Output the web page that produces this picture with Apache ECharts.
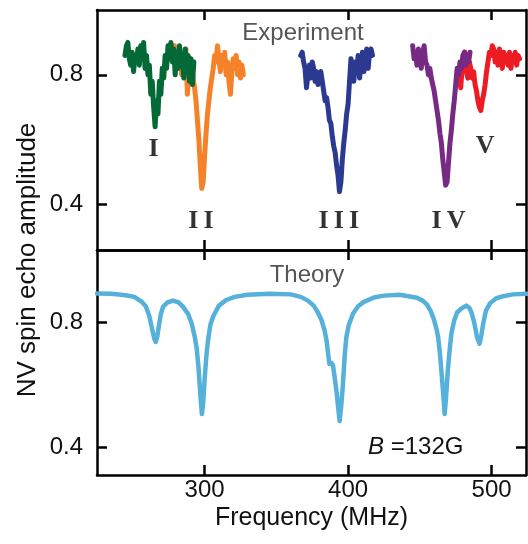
<!DOCTYPE html>
<html>
<head>
<meta charset="utf-8">
<script src="https://cdn.jsdelivr.net/npm/echarts@6/dist/echarts.min.js"></script>
<style>html,body{margin:0;padding:0;background:#fff;}#c{width:528px;height:544px;}</style>
</head>
<body>
<div id="c"></div>
<script>
// ---- data ----
const xTicks = [300, 400, 500];
const yTicks = [0.4, 0.8];

const greenFreq = [244.5,245.5,246.5,247.5,248.5,249.5,250.5,251.5,252.5,253.5,254.5,255.5,256.5,257.5,258.5,259.5,260.5,261.5,262.5,263.5,264.5,265.5,266.5,267.5,268.5,269.5,270.5,271.5,272.5,273.5,274.5,275.5,276.5,277.5,278.5,279.5,280.5,281.5,282.5,283.5,284.5,285.5,286.5,287.5,288.5,289.5,290.5,291.5,292.5];
const greenAmp = [0.86,0.89,0.90,0.85,0.83,0.87,0.81,0.86,0.84,0.88,0.83,0.89,0.86,0.90,0.82,0.86,0.80,0.83,0.74,0.78,0.70,0.64,0.72,0.68,0.78,0.74,0.82,0.79,0.86,0.82,0.89,0.85,0.90,0.84,0.88,0.80,0.87,0.82,0.89,0.83,0.86,0.79,0.88,0.81,0.86,0.78,0.85,0.77,0.84];

const orangeFreq = [279,280,281,282,283,284,285,286,287,288,289,290,291,292,293,294,295,296,297,298,299,300,301,302,303,304,305,306,307,308,309,310,311,312,313,314,315,316,317,318,319,320,321,322,323,324,325,326,327];
const orangeAmp = [0.89,0.86,0.88,0.82,0.87,0.80,0.86,0.83,0.88,0.74,0.80,0.85,0.82,0.79,0.76,0.72,0.66,0.60,0.52,0.45,0.47,0.55,0.62,0.68,0.72,0.76,0.79,0.82,0.86,0.84,0.89,0.85,0.81,0.86,0.83,0.87,0.80,0.84,0.78,0.74,0.81,0.85,0.82,0.86,0.80,0.84,0.79,0.83,0.80];

const blueFreq = [367,368,369,370,371,372,373,374,375,376,377,378,379,380,381,382,383,384,385,386,387,388,389,390,391,392,393,394,395,396,397,398,399,400,401,402,403,404,405,406,407,408,409,410,411,412,413,414,415,416,417];
const blueAmp = [0.86,0.87,0.84,0.82,0.76,0.80,0.83,0.79,0.84,0.82,0.78,0.81,0.77,0.80,0.81,0.78,0.75,0.72,0.73,0.70,0.66,0.65,0.61,0.58,0.56,0.52,0.49,0.44,0.47,0.54,0.59,0.63,0.68,0.71,0.78,0.85,0.82,0.78,0.84,0.81,0.86,0.79,0.83,0.87,0.81,0.85,0.88,0.82,0.87,0.88,0.86];

const purpleFreq = [445,446,447,448,449,450,451,452,453,454,455,456,457,458,459,460,461,462,463,464,465,466,467,468,469,470,471,472,473,474,475,476,477,478,479,480,481,482,483,484,485];
const purpleAmp = [0.89,0.85,0.87,0.83,0.88,0.85,0.82,0.87,0.89,0.84,0.83,0.80,0.82,0.79,0.77,0.75,0.72,0.69,0.66,0.62,0.59,0.54,0.50,0.46,0.47,0.53,0.59,0.63,0.68,0.72,0.77,0.82,0.80,0.84,0.82,0.86,0.87,0.83,0.86,0.84,0.87];

const redFreq = [476.5,477.5,478.5,479.5,480.5,481.5,482.5,483.5,484.5,485.5,486.5,487.5,488.5,489.5,490.5,491.5,492.5,493.5,494.5,495.5,496.5,497.5,498.5,499.5,500.5,501.5,502.5,503.5,504.5,505.5,506.5,507.5,508.5,509.5,510.5,511.5,512.5,513.5,514.5,515.5,516.5,517.5,518.5,519.5];
const redAmp = [0.78,0.80,0.76,0.82,0.85,0.87,0.81,0.79,0.84,0.82,0.79,0.81,0.77,0.75,0.72,0.70,0.69,0.72,0.74,0.77,0.81,0.84,0.87,0.86,0.89,0.88,0.84,0.87,0.83,0.88,0.86,0.82,0.87,0.84,0.86,0.83,0.87,0.82,0.86,0.84,0.87,0.83,0.86,0.85];

const theoryFreq = [225,235,245,251,256,259,261.5,263.5,265,266,267,268,269.5,271,274,278,282,285,288.5,291,293,294.5,295.8,297,298.1,299,300,301.2,302.5,304,306,310,315,321,330,345,360,367,372,376,379,381.5,383.5,385,386.3,387,388.5,389.5,390.7,392,393.2,394.1,395.2,396.4,397.6,398.8,400.5,403.5,407,411,418,425,436,448,452,455,457.5,459.5,461.5,462.8,464,465,466.3,467.3,468.3,469.5,470.8,472,474,476,479,482.4,484.5,486,487.5,488.7,489.8,491.6,492.8,494,496,499,503,508,515,525];
const theoryAmp = [0.891,0.890,0.885,0.880,0.865,0.850,0.818,0.775,0.745,0.736,0.752,0.784,0.825,0.848,0.862,0.868,0.862,0.848,0.825,0.795,0.755,0.715,0.650,0.570,0.505,0.540,0.615,0.690,0.745,0.790,0.818,0.852,0.870,0.880,0.887,0.890,0.888,0.880,0.868,0.852,0.830,0.805,0.775,0.740,0.690,0.665,0.668,0.660,0.620,0.575,0.520,0.483,0.530,0.600,0.690,0.752,0.790,0.827,0.850,0.864,0.878,0.884,0.887,0.877,0.868,0.855,0.835,0.812,0.780,0.750,0.700,0.645,0.570,0.505,0.560,0.645,0.710,0.763,0.805,0.830,0.843,0.852,0.845,0.830,0.805,0.780,0.752,0.730,0.755,0.790,0.835,0.860,0.875,0.882,0.888,0.890];

// roman numeral annotations (frequency, amplitude) in the experiment panel
const romanText = ['I', 'I\u2009I', 'I\u2009I\u2009I', 'I\u2009V', 'V'];
const romanFreq = [264.5, 297.5, 393.5, 470, 495.5];
const romanAmp = [0.57, 0.35, 0.35, 0.35, 0.58];

// ---- chart ----
const pair = (f, a) => f.map((v, i) => [v, a[i]]);
const AX = '#000';
const font = 'Liberation Sans, Arial, sans-serif';
const xRange = {min: 225, max: 524};

function xAx(gi, pos, labels) {
  return {
    type: 'value', gridIndex: gi, position: pos, ...xRange,
    axisLine: {show: true, onZero: false, lineStyle: {color: AX, width: 2.5}},
    axisTick: {show: true, inside: true, length: 10, lineStyle: {color: AX, width: 2.5}, customValues: xTicks},
    axisLabel: {show: labels, customValues: xTicks, color: '#111', fontSize: 24, fontFamily: font, margin: 3},
    splitLine: {show: false},
    name: labels ? 'Frequency (MHz)' : '', nameLocation: 'middle', nameGap: 31,
    nameTextStyle: {fontSize: 25, color: '#111', fontFamily: font}
  };
}
function yAx(gi, pos, labels, min, max) {
  return {
    type: 'value', gridIndex: gi, position: pos, min: min, max: max,
    axisLine: {show: true, onZero: false, lineStyle: {color: AX, width: 2.5}},
    axisTick: {show: true, inside: true, length: 10, lineStyle: {color: AX, width: 2.5}, customValues: yTicks},
    axisLabel: {show: labels, customValues: yTicks, color: '#111', fontSize: 24, fontFamily: font, margin: 14,
      formatter: v => v.toFixed(1)},
    splitLine: {show: false}
  };
}

function line(name, f, a, color, xi, yi, w) {
  return {
    name: name, type: 'line', xAxisIndex: xi, yAxisIndex: yi,
    data: pair(f, a), showSymbol: false, symbol: 'none',
    lineStyle: {color: color, width: w, join: 'round', cap: 'round'},
    itemStyle: {color: color}, silent: true, z: 3
  };
}

const chart = echarts.init(document.getElementById('c'), null, {renderer: 'canvas'});
chart.setOption({
  animation: false,
  backgroundColor: '#fff',
  grid: [
    {left: 97, right: 2, top: 10, height: 240},
    {left: 97, right: 2, top: 250, height: 225}
  ],
  xAxis: [xAx(0, 'bottom', false), xAx(0, 'top', false), xAx(1, 'bottom', true), xAx(1, 'top', false)],
  yAxis: [yAx(0, 'left', true, 0.26, 1.0), yAx(0, 'right', false, 0.26, 1.0),
          yAx(1, 'left', true, 0.31, 1.03), yAx(1, 'right', false, 0.31, 1.03)],
  series: [
    line('II', orangeFreq, orangeAmp, '#F58229', 0, 0, 5),
    line('I', greenFreq, greenAmp, '#036937', 0, 0, 5),
    line('III', blueFreq, blueAmp, '#2B3990', 0, 0, 5),
    line('V', redFreq, redAmp, '#ED1C24', 0, 0, 5),
    line('IV', purpleFreq, purpleAmp, '#772A84', 0, 0, 5),
    line('Theory', theoryFreq, theoryAmp, '#56B1DA', 2, 2, 4.5),
    {
      type: 'scatter', xAxisIndex: 0, yAxisIndex: 0, symbolSize: 0, silent: true,
      data: romanFreq.map((f, i) => ({value: [f, romanAmp[i]], name: romanText[i]})),
      label: {show: true, position: 'inside', formatter: p => p.name,
        fontFamily: 'Liberation Serif, Times New Roman, serif', fontWeight: 'bold', fontSize: 26, color: '#000'}
    }
  ],
  graphic: [
    {type: 'text', x: 303, y: 33, style: {text: 'Experiment', font: '24px ' + font, fill: '#555', align: 'center', verticalAlign: 'middle'}},
    {type: 'text', x: 307, y: 275, style: {text: 'Theory', font: '24px ' + font, fill: '#555', align: 'center', verticalAlign: 'middle'}},
    {type: 'text', x: 368, y: 447, style: {text: '{i|B} =132G', font: '24px ' + font, fill: '#111', align: 'left', verticalAlign: 'middle',
      rich: {i: {fontStyle: 'italic', fontSize: 24, fontFamily: font}}}},
    {type: 'text', x: 28, y: 260, rotation: Math.PI / 2, style: {text: 'NV spin echo amplitude', font: '26px ' + font, fill: '#111', align: 'center', verticalAlign: 'middle'}}
  ]
});
</script>
</body>
</html>
